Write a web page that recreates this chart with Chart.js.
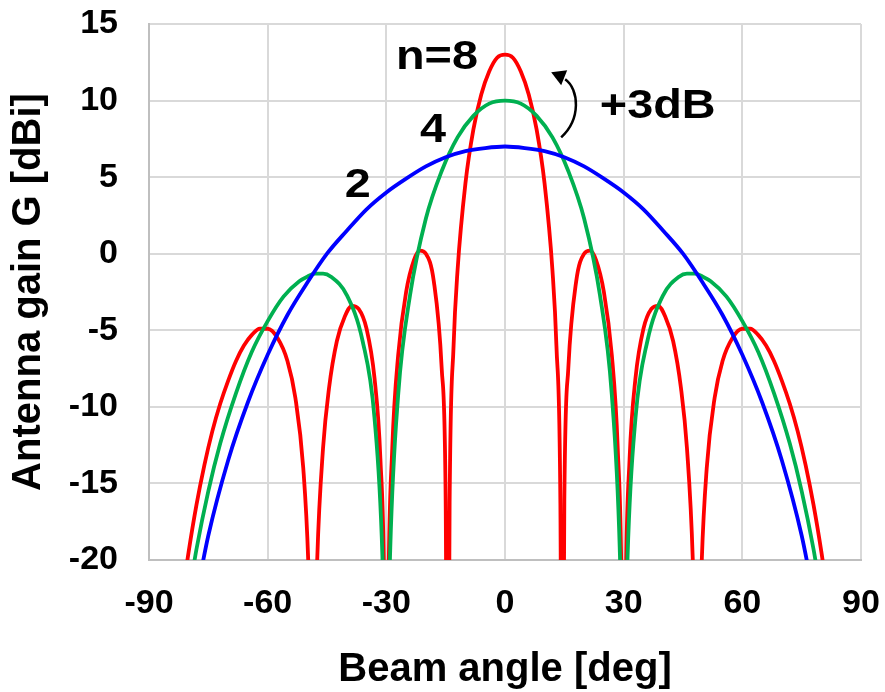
<!DOCTYPE html>
<html>
<head>
<meta charset="utf-8">
<script src="https://cdn.jsdelivr.net/npm/chart.js@4"></script>
<style>
  html, body { margin: 0; padding: 0; background: #fff; }
  #wrap { width: 885px; height: 692px; }
</style>
</head>
<body>
<div id="wrap"><canvas id="chart" width="885" height="692"></canvas></div>
<script>
  // beam angle [deg] and gain [dBi], per array size
  var angles8 = [-82, -81, -80, -78, -76, -74, -72, -70, -68, -66, -64, -62, -60, -57.5, -55, -53, -51, -49.7, -49.1, -48.6, -48.1, -47.5, -46, -44.5, -42.5, -40.5, -38.7, -37, -35, -33, -31.5, -30.5, -30, -29.5, -28.5, -27, -25, -23, -21.5, -20, -18, -16, -15, -14.5, -14, -13, -12, -10, -8, -6, -4, -2,
    0, 2, 4, 6, 8, 10, 12, 13, 14, 14.5, 15, 16, 18, 20, 21.5, 23, 25, 27, 28.5, 29.5, 30, 30.5, 31.5, 33, 35, 37, 38.7, 40.5, 42.5, 44.5, 46, 47.5, 48.1, 48.6, 49.1, 49.7, 51, 53, 55, 57.5, 60, 62, 64, 66, 68, 70, 72, 74, 76, 78, 80, 81, 82];
  var gain8 = [-23.3, -21.3, -19.5, -16.4, -13.8, -11.6, -9.8, -8.3, -7.0, -6.0, -5.3, -4.9, -4.9, -5.5, -7.0, -9.4, -14.0, -20.4, -27.1, -40, -27.2, -20.2, -12.7, -8.8, -5.7, -4.1, -3.4, -3.6, -4.9, -8.1, -13.4, -22.6, -40, -22.4, -12.7, -6.6, -2.5, -0.4, 0.2, 0.0, -1.8, -7.5, -16.1, -40, -16.3, -6.0, -1.1, 4.6, 8.1, 10.4, 11.9, 12.8,
    13.0, 12.8, 11.9, 10.4, 8.1, 4.6, -1.1, -6.0, -16.3, -40, -16.1, -7.5, -1.8, 0.0, 0.2, -0.4, -2.5, -6.6, -12.7, -22.4, -40, -22.6, -13.4, -8.1, -4.9, -3.6, -3.4, -4.1, -5.7, -8.8, -12.7, -20.2, -27.2, -40, -27.1, -20.4, -14.0, -9.4, -7.0, -5.5, -4.9, -4.9, -5.3, -6.0, -7.0, -8.3, -9.8, -11.6, -13.8, -16.4, -19.5, -21.3, -23.3];

  var angles4 = [-80, -78, -75, -72, -68, -64, -60, -56, -52, -50, -48, -46, -44, -40, -36, -33, -31, -30.5, -30, -29.5, -29, -27, -24, -20, -16, -12, -8, -4,
    0, 4, 8, 12, 16, 20, 24, 27, 29, 29.5, 30, 30.5, 31, 33, 36, 40, 44, 46, 48, 50, 52, 56, 60, 64, 68, 72, 75, 78, 80];
  var gain4 = [-22.4, -19.3, -15.5, -12.4, -9.1, -6.4, -4.4, -2.8, -1.8, -1.5, -1.3, -1.3, -1.5, -2.7, -5.7, -10.7, -19.7, -25.6, -40, -25.4, -19.2, -9.2, -2.7, 2.3, 5.4, 7.6, 9.0, 9.8,
    10.0, 9.8, 9.0, 7.6, 5.4, 2.3, -2.7, -9.2, -19.2, -25.4, -40, -25.6, -19.7, -10.7, -5.7, -2.7, -1.5, -1.3, -1.3, -1.5, -1.8, -2.8, -4.4, -6.4, -9.1, -12.4, -15.5, -19.3, -22.4];

  var angles2 = [-78, -75, -70, -65, -60, -55, -50, -45, -40, -35, -30, -25, -20, -15, -10, -5,
    0, 5, 10, 15, 20, 25, 30, 35, 40, 45, 50, 55, 60, 65, 70, 75, 78];
  var gain2 = [-22.3, -18.4, -13.5, -9.7, -6.6, -4.0, -1.9, 0.0, 1.5, 2.9, 4.0, 4.9, 5.7, 6.3, 6.7, 6.9,
    7.0, 6.9, 6.7, 6.3, 5.7, 4.9, 4.0, 2.9, 1.5, 0.0, -1.9, -4.0, -6.6, -9.7, -13.5, -18.4, -22.3];

  var xTicks = [-90, -60, -30, 0, 30, 60, 90];
  var yTicks = [-20, -15, -10, -5, 0, 5, 10, 15];
  var xTitle = 'Beam angle [deg]';
  var yTitle = 'Antenna gain G [dBi]';

  function toPoints(xs, ys) {
    return xs.map(function (x, i) { return { x: x, y: ys[i] }; });
  }

  var FONT = '"Liberation Sans", Arial, sans-serif';

  // text labels + curved arrow on top of the curves
  var notes = {
    id: 'notes',
    afterDatasetsDraw: function (chart) {
      var ctx = chart.ctx;
      var xs = chart.scales.x, ys = chart.scales.y;
      function label(txt, x, y) {
        ctx.save();
        ctx.translate(xs.getPixelForValue(x), ys.getPixelForValue(y));
        ctx.scale(1.17, 1); // the labels in the original are a bit wide
        ctx.fillText(txt, 0, 0);
        ctx.restore();
      }
      ctx.save();
      ctx.fillStyle = '#000';
      ctx.font = 'bold 40px ' + FONT;
      ctx.textAlign = 'center';
      ctx.textBaseline = 'middle';
      label('n=8', -17.2, 12.75);
      label('4', -18.2, 8.0);
      label('2', -37.2, 4.4);
      label('+3dB', 38.6, 9.55);

      // arrow
      var bx = xs.getPixelForValue(14.2), by = ys.getPixelForValue(7.6);
      ctx.strokeStyle = '#000';
      ctx.lineWidth = 2.5;
      ctx.beginPath();
      ctx.moveTo(bx, by);
      ctx.bezierCurveTo(bx + 20, by - 18, bx + 18, by - 48, bx + 4, by - 58);
      ctx.stroke();
      ctx.beginPath();
      ctx.moveTo(bx - 10, by - 65);
      ctx.lineTo(bx + 6, by - 67);
      ctx.lineTo(bx + 0, by - 52);
      ctx.closePath();
      ctx.fill();
      ctx.restore();
    }
  };

  var chart = new Chart(document.getElementById('chart'), {
    type: 'line',
    data: {
      datasets: [
        { label: '2', data: toPoints(angles2, gain2), borderColor: '#0000ff' },
        { label: '4', data: toPoints(angles4, gain4), borderColor: '#00b050' },
        { label: '8', data: toPoints(angles8, gain8), borderColor: '#ff0000' }
      ]
    },
    options: {
      responsive: false,
      animation: false,
      events: [],
      layout: { padding: { top: 24, right: 24, left: 0, bottom: 0 } },
      elements: {
        point: { radius: 0 },
        line: { borderWidth: 3.8, cubicInterpolationMode: 'monotone', fill: false }
      },
      plugins: {
        legend: { display: false },
        tooltip: { enabled: false }
      },
      scales: {
        x: {
          type: 'linear',
          min: -90,
          max: 90,
          afterBuildTicks: function (scale) {
            scale.ticks = xTicks.map(function (v) { return { value: v }; });
          },
          afterFit: function (scale) {
            scale.height = 132;
            scale.paddingLeft = 0;
            scale.paddingRight = 0;
          },
          grid: { color: '#d9d9d9', lineWidth: 2, drawTicks: false },
          border: { color: '#bfbfbf', width: 2 },
          ticks: {
            color: '#000',
            padding: 23,
            maxRotation: 0,
            font: { family: FONT, size: 34, weight: 'bold' }
          },
          title: {
            display: true,
            text: xTitle,
            color: '#000',
            padding: { top: 0, bottom: 0 },
            font: { family: FONT, size: 40, weight: 'bold', lineHeight: 1.1 }
          }
        },
        y: {
          min: -20,
          max: 15,
          afterBuildTicks: function (scale) {
            scale.ticks = yTicks.map(function (v) { return { value: v }; });
          },
          afterFit: function (scale) {
            scale.width = 149;
            scale.paddingTop = 0;
            scale.paddingBottom = 0;
          },
          grid: { color: '#d9d9d9', lineWidth: 2, drawTicks: false },
          border: { color: '#bfbfbf', width: 2 },
          ticks: {
            color: '#000',
            padding: 31,
            font: { family: FONT, size: 34, weight: 'bold' }
          },
          title: {
            display: true,
            text: yTitle,
            color: '#000',
            padding: { top: 7, bottom: 0 },
            font: { family: FONT, size: 40, weight: 'bold', lineHeight: 1.1 }
          }
        }
      }
    },
    plugins: [notes]
  });
</script>
</body>
</html>
